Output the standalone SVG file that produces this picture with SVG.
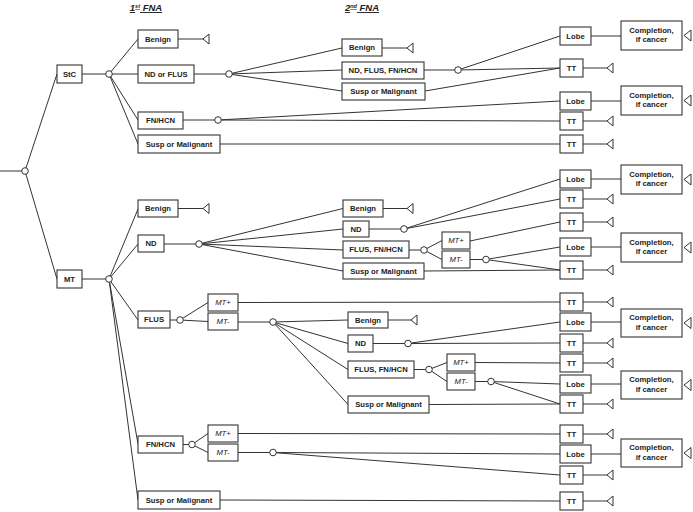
<svg xmlns="http://www.w3.org/2000/svg" width="693" height="512" viewBox="0 0 693 512">
<style>
.b{fill:#fff;stroke:#333;stroke-width:1.1}
.t{font-family:"Liberation Sans",Arial,sans-serif;font-weight:bold;font-size:7.7px;fill:#222;text-anchor:middle}
.i{font-style:italic;font-weight:normal}
.h{font-family:"Liberation Sans",Arial,sans-serif;font-weight:bold;font-style:italic;font-size:9.5px;fill:#222;text-anchor:middle;text-decoration:underline}
#connectors line{stroke:#333;stroke-width:1}
#connectors circle{fill:#fff;stroke:#333;stroke-width:1}
#connectors polygon{fill:#fff;stroke:#333;stroke-width:1}
</style>
<g id="headers">
<text class="h" x="146" y="11">1<tspan font-size="5.5" dy="-3">st</tspan><tspan dy="3"> FNA</tspan></text>
<text class="h" x="362" y="11">2<tspan font-size="5.5" dy="-3">nd</tspan><tspan dy="3"> FNA</tspan></text>
</g>
<g id="connectors">
<line x1="0" y1="171" x2="22" y2="171"/>
<line x1="25" y1="171" x2="57" y2="74"/>
<line x1="25" y1="171" x2="57" y2="279"/>
<line x1="82" y1="74" x2="106" y2="74"/>
<line x1="109" y1="74" x2="138" y2="39"/>
<line x1="109" y1="74" x2="138" y2="74"/>
<line x1="109" y1="74" x2="138" y2="120"/>
<line x1="109" y1="74" x2="138" y2="144"/>
<line x1="178" y1="39" x2="203" y2="39"/>
<line x1="194" y1="74" x2="226" y2="74"/>
<line x1="229" y1="74" x2="342" y2="48"/>
<line x1="229" y1="74" x2="342" y2="70"/>
<line x1="229" y1="74" x2="342" y2="91"/>
<line x1="382" y1="48" x2="407" y2="48"/>
<line x1="424" y1="70" x2="455" y2="70"/>
<line x1="458" y1="70" x2="560" y2="36"/>
<line x1="458" y1="70" x2="560" y2="68"/>
<line x1="425" y1="91" x2="560" y2="68"/>
<line x1="591" y1="36" x2="621" y2="36"/>
<line x1="583" y1="68" x2="607" y2="68"/>
<line x1="183" y1="120" x2="215" y2="120"/>
<line x1="218" y1="120" x2="560" y2="101"/>
<line x1="218" y1="120" x2="560" y2="121"/>
<line x1="591" y1="101" x2="621" y2="101"/>
<line x1="583" y1="121" x2="607" y2="121"/>
<line x1="220" y1="144" x2="560" y2="144"/>
<line x1="583" y1="144" x2="607" y2="144"/>
<line x1="82" y1="279" x2="106" y2="279"/>
<line x1="109" y1="279" x2="138" y2="209"/>
<line x1="109" y1="279" x2="138" y2="244"/>
<line x1="109" y1="279" x2="138" y2="320"/>
<line x1="109" y1="279" x2="138" y2="444"/>
<line x1="109" y1="279" x2="138" y2="500"/>
<line x1="178" y1="208.5" x2="203" y2="208.5"/>
<line x1="164" y1="244" x2="196" y2="244"/>
<line x1="199" y1="244" x2="343" y2="208.5"/>
<line x1="199" y1="244" x2="343" y2="229"/>
<line x1="199" y1="244" x2="343" y2="250"/>
<line x1="199" y1="244" x2="343" y2="271"/>
<line x1="383" y1="208.5" x2="407" y2="208.5"/>
<line x1="369" y1="229" x2="401" y2="229"/>
<line x1="404" y1="229" x2="560" y2="179"/>
<line x1="404" y1="229" x2="560" y2="199"/>
<line x1="591" y1="179" x2="621" y2="179"/>
<line x1="583" y1="199" x2="607" y2="199"/>
<line x1="409" y1="250" x2="421" y2="250"/>
<line x1="424" y1="250" x2="442" y2="240.5"/>
<line x1="424" y1="250" x2="442" y2="259.5"/>
<line x1="470" y1="241" x2="560" y2="222"/>
<line x1="583" y1="222" x2="607" y2="222"/>
<line x1="470" y1="259.5" x2="483" y2="259.5"/>
<line x1="486" y1="259.5" x2="560" y2="247"/>
<line x1="486" y1="259.5" x2="560" y2="270"/>
<line x1="591" y1="247" x2="621" y2="247"/>
<line x1="424" y1="271" x2="560" y2="270"/>
<line x1="583" y1="270" x2="607" y2="270"/>
<line x1="170" y1="320" x2="177" y2="320"/>
<line x1="180" y1="320" x2="208" y2="302.5"/>
<line x1="180" y1="320" x2="208" y2="321.5"/>
<line x1="238" y1="302.5" x2="560" y2="302"/>
<line x1="583" y1="302" x2="607" y2="302"/>
<line x1="238" y1="322" x2="270" y2="322"/>
<line x1="273" y1="322" x2="348" y2="320"/>
<line x1="273" y1="322" x2="348" y2="343.5"/>
<line x1="273" y1="322" x2="348" y2="369.5"/>
<line x1="273" y1="322" x2="348" y2="404.5"/>
<line x1="388" y1="320" x2="411" y2="320"/>
<line x1="373" y1="343.5" x2="405" y2="343.5"/>
<line x1="408" y1="343.5" x2="560" y2="322"/>
<line x1="408" y1="343.5" x2="560" y2="343"/>
<line x1="591" y1="322" x2="621" y2="322"/>
<line x1="583" y1="343" x2="607" y2="343"/>
<line x1="414" y1="369.5" x2="426" y2="369.5"/>
<line x1="429" y1="369.5" x2="447" y2="362.5"/>
<line x1="429" y1="369.5" x2="447" y2="381.5"/>
<line x1="475" y1="362.5" x2="560" y2="363"/>
<line x1="583" y1="363" x2="607" y2="363"/>
<line x1="475" y1="381.5" x2="488" y2="381.5"/>
<line x1="491" y1="381.5" x2="560" y2="384"/>
<line x1="491" y1="381.5" x2="560" y2="404"/>
<line x1="591" y1="384" x2="621" y2="384"/>
<line x1="429" y1="404.5" x2="560" y2="404"/>
<line x1="583" y1="404" x2="607" y2="404"/>
<line x1="183" y1="444.5" x2="189" y2="444.5"/>
<line x1="192" y1="444.5" x2="208" y2="433.5"/>
<line x1="192" y1="444.5" x2="208" y2="452.5"/>
<line x1="238" y1="433.5" x2="560" y2="434"/>
<line x1="583" y1="434" x2="607" y2="434"/>
<line x1="238" y1="452.5" x2="270" y2="452.5"/>
<line x1="273" y1="452.5" x2="560" y2="454"/>
<line x1="273" y1="452.5" x2="560" y2="475"/>
<line x1="591" y1="454" x2="621" y2="454"/>
<line x1="583" y1="475" x2="607" y2="475"/>
<line x1="220" y1="500" x2="560" y2="501"/>
<line x1="583" y1="501" x2="607" y2="501"/>
<circle cx="25" cy="171" r="3.3"/>
<circle cx="109" cy="74" r="3.3"/>
<circle cx="229" cy="74" r="3.3"/>
<circle cx="458" cy="70" r="3.3"/>
<circle cx="218" cy="120" r="3.3"/>
<circle cx="109" cy="279" r="3.3"/>
<circle cx="199" cy="244" r="3.3"/>
<circle cx="404" cy="229" r="3.3"/>
<circle cx="424" cy="250" r="3.3"/>
<circle cx="486" cy="259.5" r="3.3"/>
<circle cx="180" cy="320" r="3.3"/>
<circle cx="273" cy="322" r="3.3"/>
<circle cx="408" cy="343.5" r="3.3"/>
<circle cx="429" cy="369.5" r="3.3"/>
<circle cx="491" cy="381.5" r="3.3"/>
<circle cx="192" cy="444.5" r="3.3"/>
<circle cx="273" cy="452.5" r="3.3"/>
<polygon points="203,39 209,34 209,44"/>
<polygon points="407,48 413,43 413,53"/>
<polygon points="607,68 613,63 613,73"/>
<polygon points="684,35.5 691,30 691,41"/>
<polygon points="607,121 613,116 613,126"/>
<polygon points="684,100.5 691,95 691,106"/>
<polygon points="607,144 613,139 613,149"/>
<polygon points="203,208.5 209,203.5 209,213.5"/>
<polygon points="407,208.5 413,203.5 413,213.5"/>
<polygon points="684,179.5 691,174 691,185"/>
<polygon points="607,199 613,194 613,204"/>
<polygon points="607,222 613,217 613,227"/>
<polygon points="684,247.5 691,242 691,253"/>
<polygon points="607,270 613,265 613,275"/>
<polygon points="607,302 613,297 613,307"/>
<polygon points="411,320 417,315 417,325"/>
<polygon points="684,323 691,317.5 691,328.5"/>
<polygon points="607,343 613,338 613,348"/>
<polygon points="607,363 613,358 613,368"/>
<polygon points="684,385 691,379.5 691,390.5"/>
<polygon points="607,404 613,399 613,409"/>
<polygon points="607,434 613,429 613,439"/>
<polygon points="684,453 691,447.5 691,458.5"/>
<polygon points="607,475 613,470 613,480"/>
<polygon points="607,501 613,496 613,506"/>
</g>
<g id="StC"><rect class="b" x="57" y="65" width="25" height="18"/><text class="t" x="69.5" y="76.8">StC</text></g>
<g id="MT"><rect class="b" x="57" y="270" width="25" height="18"/><text class="t" x="69.5" y="281.8">MT</text></g>
<g id="StC-Benign"><rect class="b" x="138" y="30" width="40" height="18"/><text class="t" x="158" y="41.8">Benign</text></g>
<g id="StC-NDFLUS"><rect class="b" x="138" y="65" width="56" height="18"/><text class="t" x="166" y="76.8">ND or FLUS</text></g>
<g id="StC-FNHCN"><rect class="b" x="138" y="112" width="45" height="17"/><text class="t" x="160.5" y="123.3">FN/HCN</text></g>
<g id="StC-Susp"><rect class="b" x="138" y="135" width="82" height="18"/><text class="t" x="179" y="146.8">Susp or Malignant</text></g>
<g id="StC-2-Benign"><rect class="b" x="342" y="39" width="40" height="17"/><text class="t" x="362" y="50.3">Benign</text></g>
<g id="StC-2-NDFLUS"><rect class="b" x="342" y="62" width="82" height="17"/><text class="t" x="383" y="73.3">ND, FLUS, FN/HCN</text></g>
<g id="StC-2-Susp"><rect class="b" x="342" y="83" width="83" height="17"/><text class="t" x="383.5" y="94.3">Susp or Malignant</text></g>
<g id="Lobe1"><rect class="b" x="560" y="27" width="31" height="18"/><text class="t" x="575.5" y="38.8">Lobe</text></g>
<g id="Comp1"><rect class="b" x="621" y="21" width="61" height="29"/><text class="t" x="651.5" y="32.5">Completion,<tspan x="651.5" dy="9.5">if cancer</tspan></text></g>
<g id="TT1"><rect class="b" x="560" y="59" width="23" height="18"/><text class="t" x="571.5" y="70.8">TT</text></g>
<g id="Lobe2"><rect class="b" x="560" y="92" width="31" height="18"/><text class="t" x="575.5" y="103.8">Lobe</text></g>
<g id="Comp2"><rect class="b" x="621" y="86" width="61" height="29"/><text class="t" x="651.5" y="97.5">Completion,<tspan x="651.5" dy="9.5">if cancer</tspan></text></g>
<g id="TT2"><rect class="b" x="560" y="112" width="23" height="18"/><text class="t" x="571.5" y="123.8">TT</text></g>
<g id="TT3"><rect class="b" x="560" y="135" width="23" height="18"/><text class="t" x="571.5" y="146.8">TT</text></g>
<g id="MT-Benign"><rect class="b" x="138" y="200" width="40" height="17"/><text class="t" x="158" y="211.3">Benign</text></g>
<g id="MT-ND"><rect class="b" x="138" y="235" width="26" height="17"/><text class="t" x="151" y="246.3">ND</text></g>
<g id="MT-ND-2-Benign"><rect class="b" x="343" y="200" width="40" height="17"/><text class="t" x="363" y="211.3">Benign</text></g>
<g id="MT-ND-2-ND"><rect class="b" x="343" y="221" width="26" height="16"/><text class="t" x="356" y="231.8">ND</text></g>
<g id="MT-ND-2-FLUS"><rect class="b" x="343" y="241" width="66" height="17"/><text class="t" x="376" y="252.3">FLUS, FN/HCN</text></g>
<g id="MT-ND-2-Susp"><rect class="b" x="343" y="263" width="81" height="16"/><text class="t" x="383.5" y="273.8">Susp or Malignant</text></g>
<g id="MTp1"><rect class="b" x="442" y="232" width="28" height="17"/><text class="t i" x="456" y="243.3">MT+</text></g>
<g id="MTm1"><rect class="b" x="442" y="251" width="28" height="17"/><text class="t i" x="456" y="262.3">MT-</text></g>
<g id="Lobe3"><rect class="b" x="560" y="170" width="31" height="18"/><text class="t" x="575.5" y="181.8">Lobe</text></g>
<g id="Comp3"><rect class="b" x="621" y="165" width="61" height="29"/><text class="t" x="651.5" y="176.5">Completion,<tspan x="651.5" dy="9.5">if cancer</tspan></text></g>
<g id="TT4"><rect class="b" x="560" y="190" width="23" height="18"/><text class="t" x="571.5" y="201.8">TT</text></g>
<g id="TT5"><rect class="b" x="560" y="213" width="23" height="18"/><text class="t" x="571.5" y="224.8">TT</text></g>
<g id="Lobe4"><rect class="b" x="560" y="238" width="31" height="18"/><text class="t" x="575.5" y="249.8">Lobe</text></g>
<g id="Comp4"><rect class="b" x="621" y="233" width="61" height="29"/><text class="t" x="651.5" y="244.5">Completion,<tspan x="651.5" dy="9.5">if cancer</tspan></text></g>
<g id="TT6"><rect class="b" x="560" y="261" width="23" height="18"/><text class="t" x="571.5" y="272.8">TT</text></g>
<g id="MT-FLUS"><rect class="b" x="138" y="311" width="32" height="17"/><text class="t" x="154" y="322.3">FLUS</text></g>
<g id="MTp2"><rect class="b" x="208" y="294" width="30" height="17"/><text class="t i" x="223" y="305.3">MT+</text></g>
<g id="MTm2"><rect class="b" x="208" y="313" width="30" height="17"/><text class="t i" x="223" y="324.3">MT-</text></g>
<g id="TT7"><rect class="b" x="560" y="293" width="23" height="18"/><text class="t" x="571.5" y="304.8">TT</text></g>
<g id="MT-FLUS-2-Benign"><rect class="b" x="348" y="312" width="40" height="16"/><text class="t" x="368" y="322.8">Benign</text></g>
<g id="MT-FLUS-2-ND"><rect class="b" x="348" y="335" width="25" height="17"/><text class="t" x="360.5" y="346.3">ND</text></g>
<g id="MT-FLUS-2-FLUS"><rect class="b" x="348" y="361" width="66" height="17"/><text class="t" x="381" y="372.3">FLUS, FN/HCN</text></g>
<g id="MT-FLUS-2-Susp"><rect class="b" x="348" y="396" width="81" height="17"/><text class="t" x="388.5" y="407.3">Susp or Malignant</text></g>
<g id="Lobe5"><rect class="b" x="560" y="313" width="31" height="18"/><text class="t" x="575.5" y="324.8">Lobe</text></g>
<g id="Comp5"><rect class="b" x="621" y="309" width="61" height="28"/><text class="t" x="651.5" y="320">Completion,<tspan x="651.5" dy="9.5">if cancer</tspan></text></g>
<g id="TT8"><rect class="b" x="560" y="334" width="23" height="18"/><text class="t" x="571.5" y="345.8">TT</text></g>
<g id="MTp3"><rect class="b" x="447" y="354" width="28" height="17"/><text class="t i" x="461" y="365.3">MT+</text></g>
<g id="MTm3"><rect class="b" x="447" y="373" width="28" height="17"/><text class="t i" x="461" y="384.3">MT-</text></g>
<g id="TT9"><rect class="b" x="560" y="354" width="23" height="18"/><text class="t" x="571.5" y="365.8">TT</text></g>
<g id="Lobe6"><rect class="b" x="560" y="375" width="31" height="18"/><text class="t" x="575.5" y="386.8">Lobe</text></g>
<g id="Comp6"><rect class="b" x="621" y="371" width="61" height="28"/><text class="t" x="651.5" y="382">Completion,<tspan x="651.5" dy="9.5">if cancer</tspan></text></g>
<g id="TT10"><rect class="b" x="560" y="395" width="23" height="18"/><text class="t" x="571.5" y="406.8">TT</text></g>
<g id="MT-FNHCN"><rect class="b" x="138" y="436" width="45" height="17"/><text class="t" x="160.5" y="447.3">FN/HCN</text></g>
<g id="MTp4"><rect class="b" x="208" y="425" width="30" height="17"/><text class="t i" x="223" y="436.3">MT+</text></g>
<g id="MTm4"><rect class="b" x="208" y="444" width="30" height="17"/><text class="t i" x="223" y="455.3">MT-</text></g>
<g id="TT11"><rect class="b" x="560" y="425" width="23" height="18"/><text class="t" x="571.5" y="436.8">TT</text></g>
<g id="Lobe7"><rect class="b" x="560" y="445" width="31" height="18"/><text class="t" x="575.5" y="456.8">Lobe</text></g>
<g id="Comp7"><rect class="b" x="621" y="439" width="61" height="28"/><text class="t" x="651.5" y="450">Completion,<tspan x="651.5" dy="9.5">if cancer</tspan></text></g>
<g id="TT12"><rect class="b" x="560" y="466" width="23" height="18"/><text class="t" x="571.5" y="477.8">TT</text></g>
<g id="MT-Susp"><rect class="b" x="138" y="491" width="82" height="18"/><text class="t" x="179" y="502.8">Susp or Malignant</text></g>
<g id="TT13"><rect class="b" x="560" y="492" width="23" height="18"/><text class="t" x="571.5" y="503.8">TT</text></g>
</svg>
